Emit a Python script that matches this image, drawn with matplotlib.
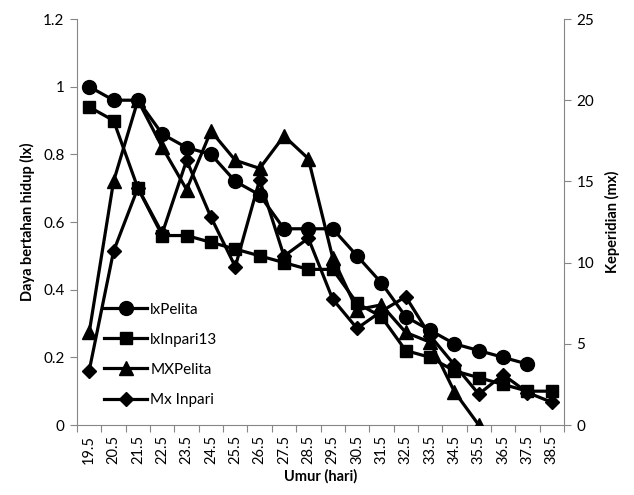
import numpy as np
import matplotlib
matplotlib.use('Agg')
import matplotlib.pyplot as plt
from matplotlib.ticker import FixedLocator, FuncFormatter

plt.rcParams['font.family'] = ['Lato', 'DejaVu Sans']

# data
umur = ['19.5', '20.5', '21.5', '22.5', '23.5', '24.5', '25.5', '26.5', '27.5', '28.5',
        '29.5', '30.5', '31.5', '32.5', '33.5', '34.5', '35.5', '36.5', '37.5', '38.5']
lx_pelita = [1.0, 0.96, 0.96, 0.86, 0.82, 0.80, 0.72, 0.68, 0.58, 0.58,
             0.58, 0.50, 0.42, 0.32, 0.28, 0.24, 0.22, 0.20, 0.18, np.nan]
lx_inpari = [0.94, 0.90, 0.70, 0.56, 0.56, 0.54, 0.52, 0.50, 0.48, 0.46,
             0.46, 0.36, 0.32, 0.22, 0.20, 0.16, 0.14, 0.12, 0.10, 0.10]
mx_pelita = [5.7, 15.0, 20.0, 17.1, 14.5, 18.1, 16.3, 15.8, 17.8, 16.4,
             10.3, 7.1, 7.4, 5.7, 5.1, 2.05, 0.0, np.nan, np.nan, np.nan]
mx_inpari = [3.35, 10.7, 14.6, 11.8, 16.3, 12.8, 9.75, 15.1, 10.4, 11.5,
             7.75, 5.95, 7.0, 7.9, 5.5, 3.7, 1.9, 3.1, 2.0, 1.4]

x = np.arange(len(umur))
grey = '#868686'

fig = plt.figure(figsize=(6.34, 4.95), dpi=100)
ax = fig.add_axes([0.1215, 0.1414, 0.7681, 0.8202])
ax2 = ax.twinx()

lw = 2.3
h1, = ax.plot(x, lx_pelita, color='black', lw=lw, marker='o', ms=10, label='lxPelita')
h2, = ax.plot(x, lx_inpari, color='black', lw=lw, marker='s', ms=8.5, label='lxInpari13')
h3, = ax2.plot(x, mx_pelita, color='black', lw=lw, marker='^', ms=9.5, label='MXPelita')
h4, = ax2.plot(x, mx_inpari, color='black', lw=lw, marker='D', ms=7.5, label='Mx Inpari')

ax.set_xlim(-0.5, len(umur) - 0.5)
ax.set_ylim(0, 1.2)
ax2.set_ylim(0, 25)
ax.set_yticks(np.arange(0, 1.21, 0.2))
ax.yaxis.set_major_formatter(FuncFormatter(lambda v, p: '%g' % round(v, 1)))
ax2.set_yticks(np.arange(0, 26, 5))

# category ticks: marks on the boundaries, labels in the middle
ax.xaxis.set_major_locator(FixedLocator(np.arange(-0.5, len(umur), 1.0)))
ax.xaxis.set_major_formatter(FuncFormatter(lambda v, p: ''))
ax.set_xticks(x, minor=True)
ax.set_xticklabels(umur, minor=True, rotation=90, fontsize=10.5)
ax.tick_params(axis='x', which='minor', length=0, pad=7)
ax.tick_params(axis='x', which='major', length=5, color=grey)

ax.tick_params(axis='y', length=5, color=grey, labelsize=11, pad=4)
ax2.tick_params(axis='y', length=5, color=grey, labelsize=11, pad=4)

for a in (ax, ax2):
    a.spines['top'].set_visible(False)
    for s in ('left', 'right', 'bottom'):
        a.spines[s].set_color(grey)
ax2.spines['left'].set_visible(False)
ax.spines['right'].set_visible(False)
ax2.spines['bottom'].set_visible(False)

ax.set_ylabel('Daya bertahan hidup (lx)', fontsize=10.5, fontweight='bold', labelpad=6)
ax2.set_ylabel('Keperidian (mx)', fontsize=10.5, fontweight='bold', labelpad=8)
ax.set_xlabel('Umur (hari)', fontsize=10.5, fontweight='bold', labelpad=4)

ax2.legend([h1, h2, h3, h4], ['lxPelita', 'lxInpari13', 'MXPelita', 'Mx Inpari'],
           loc='upper left', bbox_to_anchor=(0.028, 0.335), frameon=False,
           fontsize=11, handlelength=2.8, handletextpad=0.2, labelspacing=1.05)

fig.savefig('out.png', dpi=100)
